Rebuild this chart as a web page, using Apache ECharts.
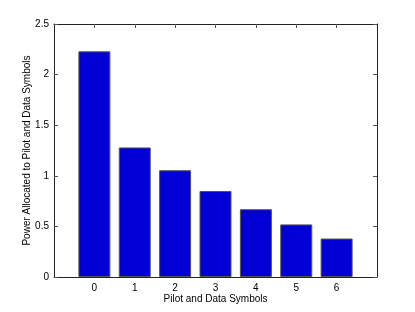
<!DOCTYPE html>
<html><head><meta charset="utf-8">
<script src="https://cdn.jsdelivr.net/npm/echarts@6/dist/echarts.min.js"></script>
<style>html,body{margin:0;padding:0;background:#fff}#c{width:415px;height:312px}</style>
</head><body><div id="c"></div>
<script>
const symbols = [0, 1, 2, 3, 4, 5, 6];
const power = [2.23, 1.28, 1.055, 0.85, 0.67, 0.52, 0.38];
const yTicks = [0, 0.5, 1, 1.5, 2, 2.5];
const xLabel = 'Pilot and Data Symbols';
const yLabel = 'Power Allocated to Pilot and Data Symbols';

const font = 'Liberation Sans, Arial, Helvetica, sans-serif';
const chart = echarts.init(document.getElementById('c'), null, {renderer: 'canvas'});
const axisLine = {show: true, onZero: false, lineStyle: {color: '#222', width: 1}};
const tick = {show: true, inside: true, length: 4, lineStyle: {color: '#555', width: 1}};
chart.setOption({
  animation: false,
  grid: {left: 54, right: 38, top: 24, bottom: 35, containLabel: false},
  xAxis: [{
    type: 'value', min: -1, max: 7, interval: 1, position: 'bottom',
    name: xLabel, nameLocation: 'middle', nameGap: 17, nameMoveOverlap: false,
    nameTextStyle: {fontFamily: font, fontSize: 10, color: '#000'},
    axisLine: axisLine,
    axisTick: Object.assign({}, tick, {customValues: symbols}),
    axisLabel: {fontFamily: font, fontSize: 10, color: '#000', margin: 6, customValues: symbols},
    splitLine: {show: false}
  }, {
    type: 'value', min: -1, max: 7, interval: 1, position: 'top',
    axisLine: axisLine,
    axisTick: Object.assign({}, tick, {customValues: symbols}),
    axisLabel: {show: false},
    splitLine: {show: false}
  }],
  yAxis: [{
    type: 'value', min: 0, max: 2.5, interval: 0.5, position: 'left',
    name: yLabel, nameLocation: 'middle', nameGap: 22, nameMoveOverlap: false, nameRotate: 90,
    nameTextStyle: {fontFamily: font, fontSize: 10, color: '#000'},
    axisLine: axisLine,
    axisTick: Object.assign({}, tick, {customValues: yTicks}),
    axisLabel: {fontFamily: font, fontSize: 10, color: '#000', margin: 5, customValues: yTicks},
    splitLine: {show: false}
  }, {
    type: 'value', min: 0, max: 2.5, interval: 0.5, position: 'right',
    axisLine: axisLine,
    axisTick: Object.assign({}, tick, {customValues: yTicks}),
    axisLabel: {show: false},
    splitLine: {show: false}
  }],
  series: [{
    type: 'bar',
    xAxisIndex: 0, yAxisIndex: 0,
    data: symbols.map((s, i) => [s, power[i]]),
    barWidth: 32,
    itemStyle: {color: '#0000d6', borderColor: '#555', borderWidth: 1}
  }]
});
</script></body></html>
